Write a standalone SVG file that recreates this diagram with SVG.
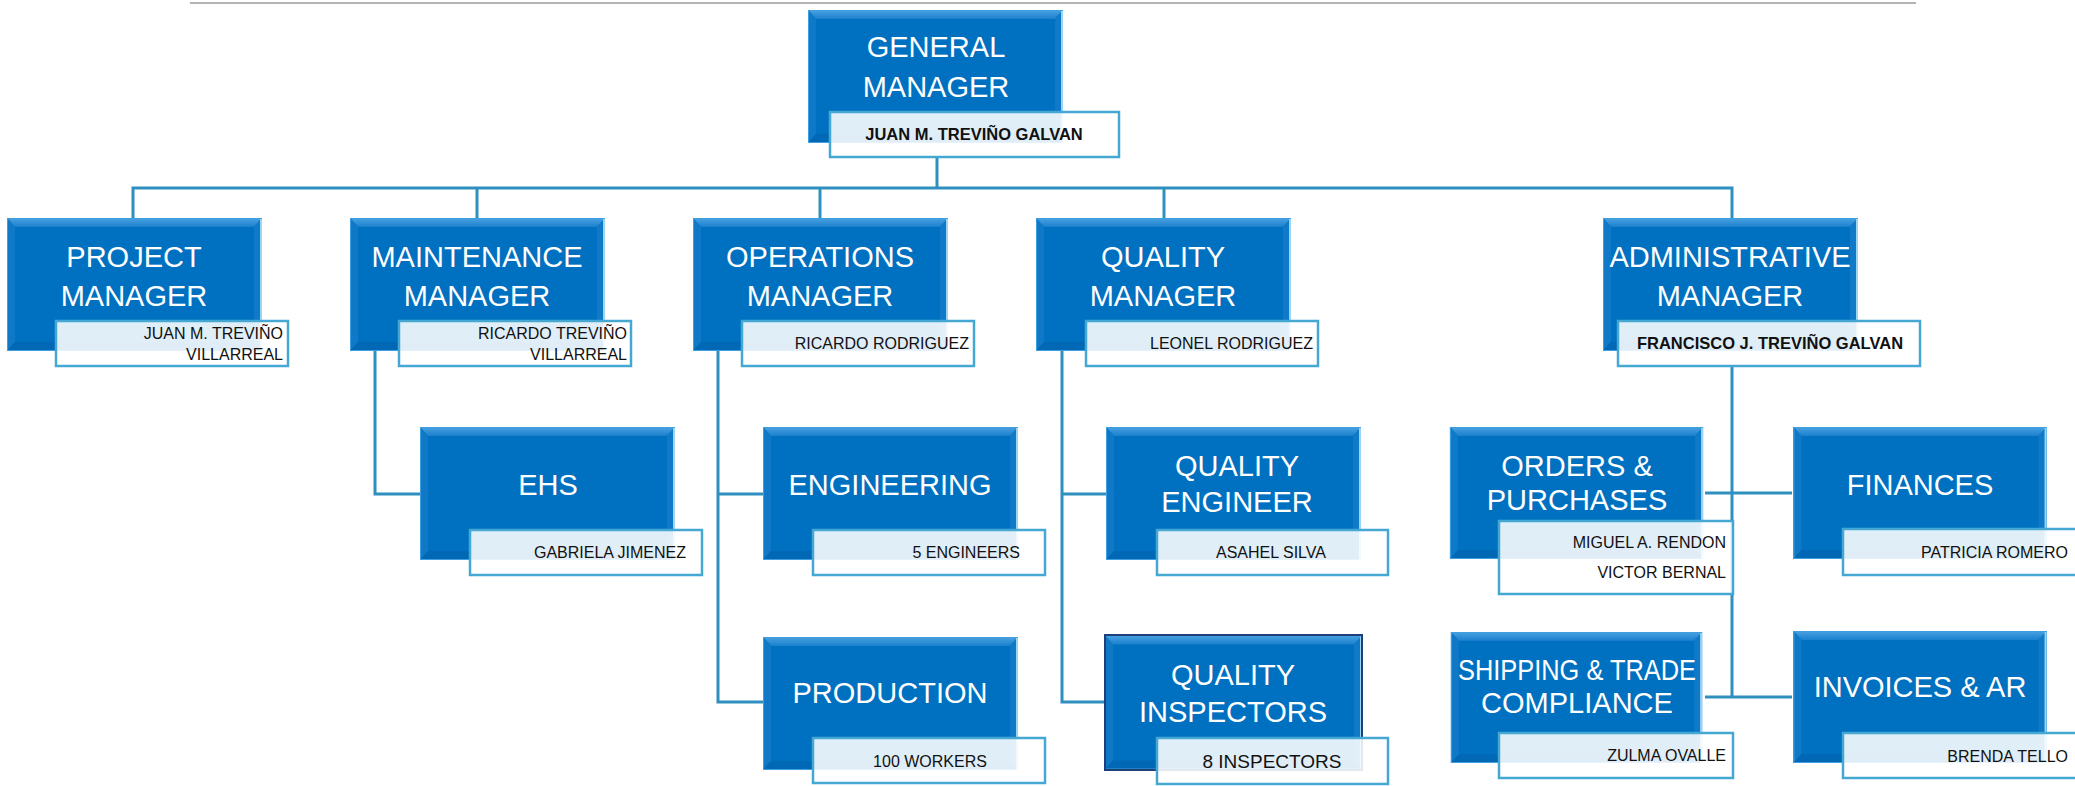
<svg xmlns="http://www.w3.org/2000/svg" width="2075" height="786" viewBox="0 0 2075 786">
<style>
.t{fill:#fff;font-family:"Liberation Sans",Arial,sans-serif;font-size:29px;text-anchor:middle}
.n{fill:#111;font-family:"Liberation Sans",Arial,sans-serif;font-size:16px;text-anchor:end}
.nb{fill:#111;font-family:"Liberation Sans",Arial,sans-serif;font-size:16.5px;font-weight:bold;text-anchor:middle}
.nm{fill:#111;font-family:"Liberation Sans",Arial,sans-serif;font-size:16px;text-anchor:middle}
.lb{fill:#fff;fill-opacity:0.88;stroke:#45a8d2;stroke-width:2.5}
.c{fill:none;stroke:#2f90bf;stroke-width:3}
</style>
<defs>
<linearGradient id="tg" x1="0" y1="0" x2="0" y2="1">
<stop offset="0" stop-color="#4aa2e2"/>
<stop offset="1" stop-color="#1a80cd"/>
</linearGradient>
<symbol id="bx" viewBox="0 0 255 133">
<rect x="0" y="0" width="255" height="133" fill="#0070C0"/>
<polygon points="0,0 255,0 247,9 8,9" fill="url(#tg)"/>
<polygon points="0,0 8,9 8,124 0,133" fill="#0f78c7"/>
<polygon points="255,0 255,133 247,124 247,9" fill="#1079c8"/>
<polygon points="0,133 8,124 247,124 255,133" fill="#0068b4"/>
<rect x="0.5" y="0.5" width="254" height="132" fill="none" stroke="#3f9fe0" stroke-width="1"/>
<line x1="254" y1="1" x2="254" y2="133" stroke="#9ad6f2" stroke-width="2"/>
</symbol>
</defs>
<rect width="2075" height="786" fill="#fff"/>
<line x1="190" y1="3" x2="1916" y2="3" stroke="#b4b4b4" stroke-width="2"/>

<g id="connectors">
<line class="c" x1="937" y1="157" x2="937" y2="188"/>
<polyline class="c" points="133,218 133,188 1732,188 1732,218"/>
<line class="c" x1="477" y1="188" x2="477" y2="218"/>
<line class="c" x1="820" y1="188" x2="820" y2="218"/>
<line class="c" x1="1164" y1="188" x2="1164" y2="218"/>
<polyline class="c" points="375,351 375,494 420,494"/>
<polyline class="c" points="718,351 718,702 763,702"/>
<line class="c" x1="718" y1="494" x2="763" y2="494"/>
<polyline class="c" points="1062,351 1062,702 1105,702"/>
<line class="c" x1="1062" y1="494" x2="1106" y2="494"/>
<line class="c" x1="1732" y1="366" x2="1732" y2="697"/>
<line class="c" x1="1705" y1="493" x2="1792" y2="493"/>
<line class="c" x1="1705" y1="697" x2="1792" y2="697"/>
</g>

<g id="general-manager">
<use href="#bx" x="808" y="10" width="255" height="133"/>
<text class="t" x="936" y="57">GENERAL</text>
<text class="t" x="936" y="97">MANAGER</text>
<rect class="lb" x="830" y="112" width="289" height="45"/>
<text class="nb" x="974" y="140">JUAN M. TREVIÑO GALVAN</text>
</g>

<g id="project-manager">
<use href="#bx" x="7" y="218" width="255" height="133"/>
<text class="t" x="134" y="267">PROJECT</text>
<text class="t" x="134" y="306">MANAGER</text>
<rect class="lb" x="56" y="321" width="232" height="45"/>
<text class="n" x="283" y="339">JUAN M. TREVIÑO</text>
<text class="n" x="283" y="360">VILLARREAL</text>
</g>

<g id="maintenance-manager">
<use href="#bx" x="350" y="218" width="255" height="133"/>
<text class="t" x="477" y="267">MAINTENANCE</text>
<text class="t" x="477" y="306">MANAGER</text>
<rect class="lb" x="399" y="321" width="232" height="45"/>
<text class="n" x="627" y="339">RICARDO TREVIÑO</text>
<text class="n" x="627" y="360">VILLARREAL</text>
</g>

<g id="operations-manager">
<use href="#bx" x="693" y="218" width="255" height="133"/>
<text class="t" x="820" y="267">OPERATIONS</text>
<text class="t" x="820" y="306">MANAGER</text>
<rect class="lb" x="742" y="321" width="232" height="45"/>
<text class="n" x="969" y="349">RICARDO RODRIGUEZ</text>
</g>

<g id="quality-manager">
<use href="#bx" x="1036" y="218" width="255" height="133"/>
<text class="t" x="1163" y="267">QUALITY</text>
<text class="t" x="1163" y="306">MANAGER</text>
<rect class="lb" x="1086" y="321" width="232" height="45"/>
<text class="n" x="1313" y="349">LEONEL RODRIGUEZ</text>
</g>

<g id="administrative-manager">
<use href="#bx" x="1603" y="218" width="255" height="133"/>
<text class="t" x="1730" y="267">ADMINISTRATIVE</text>
<text class="t" x="1730" y="306">MANAGER</text>
<rect class="lb" x="1618" y="321" width="302" height="45"/>
<text class="nb" x="1770" y="349">FRANCISCO J. TREVIÑO GALVAN</text>
</g>

<g id="ehs">
<use href="#bx" x="420" y="427" width="255" height="133"/>
<text class="t" x="548" y="495">EHS</text>
<rect class="lb" x="470" y="530" width="232" height="45"/>
<text class="n" x="686" y="558">GABRIELA JIMENEZ</text>
</g>

<g id="engineering">
<use href="#bx" x="763" y="427" width="255" height="133"/>
<text class="t" x="890" y="495">ENGINEERING</text>
<rect class="lb" x="813" y="530" width="232" height="45"/>
<text class="n" x="1020" y="558">5 ENGINEERS</text>
</g>

<g id="production">
<use href="#bx" x="763" y="637" width="255" height="133"/>
<text class="t" x="890" y="703">PRODUCTION</text>
<rect class="lb" x="813" y="738" width="232" height="45"/>
<text class="nm" x="930" y="767">100 WORKERS</text>
</g>

<g id="quality-engineer">
<use href="#bx" x="1106" y="427" width="255" height="133"/>
<text class="t" x="1237" y="476">QUALITY</text>
<text class="t" x="1237" y="512">ENGINEER</text>
<rect class="lb" x="1157" y="530" width="231" height="45"/>
<text class="nm" x="1271" y="558">ASAHEL SILVA</text>
</g>

<g id="quality-inspectors">
<use href="#bx" x="1105" y="635" width="257" height="135"/>
<rect x="1105" y="635" width="257" height="135" fill="none" stroke="#1f3f78" stroke-width="2"/>
<text class="t" x="1233" y="685">QUALITY</text>
<text class="t" x="1233" y="722">INSPECTORS</text>
<rect class="lb" x="1157" y="738" width="231" height="46"/>
<text class="nm" x="1272" y="768" style="font-size:19px">8 INSPECTORS</text>
</g>

<g id="orders-purchases">
<use href="#bx" x="1448" y="427" width="257" height="132"/>
<text class="t" x="1577" y="476">ORDERS &amp;</text>
<text class="t" x="1577" y="510">PURCHASES</text>
<rect class="lb" x="1499" y="521" width="234" height="73"/>
<text class="n" x="1726" y="548">MIGUEL A. RENDON</text>
<text class="n" x="1726" y="578">VICTOR BERNAL</text>
</g>

<g id="shipping-trade-compliance">
<use href="#bx" x="1448" y="632" width="257" height="131"/>
<text class="t" x="1577" y="680" textLength="238" lengthAdjust="spacingAndGlyphs">SHIPPING &amp; TRADE</text>
<text class="t" x="1577" y="713">COMPLIANCE</text>
<rect class="lb" x="1499" y="733" width="234" height="45"/>
<text class="n" x="1726" y="761">ZULMA OVALLE</text>
</g>

<g id="finances">
<use href="#bx" x="1792" y="427" width="256" height="132"/>
<text class="t" x="1920" y="495">FINANCES</text>
<rect class="lb" x="1843" y="529" width="234" height="46"/>
<text class="n" x="2068" y="558">PATRICIA ROMERO</text>
</g>

<g id="invoices-ar">
<use href="#bx" x="1792" y="631" width="256" height="132"/>
<text class="t" x="1920" y="697">INVOICES &amp; AR</text>
<rect class="lb" x="1843" y="733" width="234" height="45"/>
<text class="n" x="2068" y="762">BRENDA TELLO</text>
</g>
</svg>
